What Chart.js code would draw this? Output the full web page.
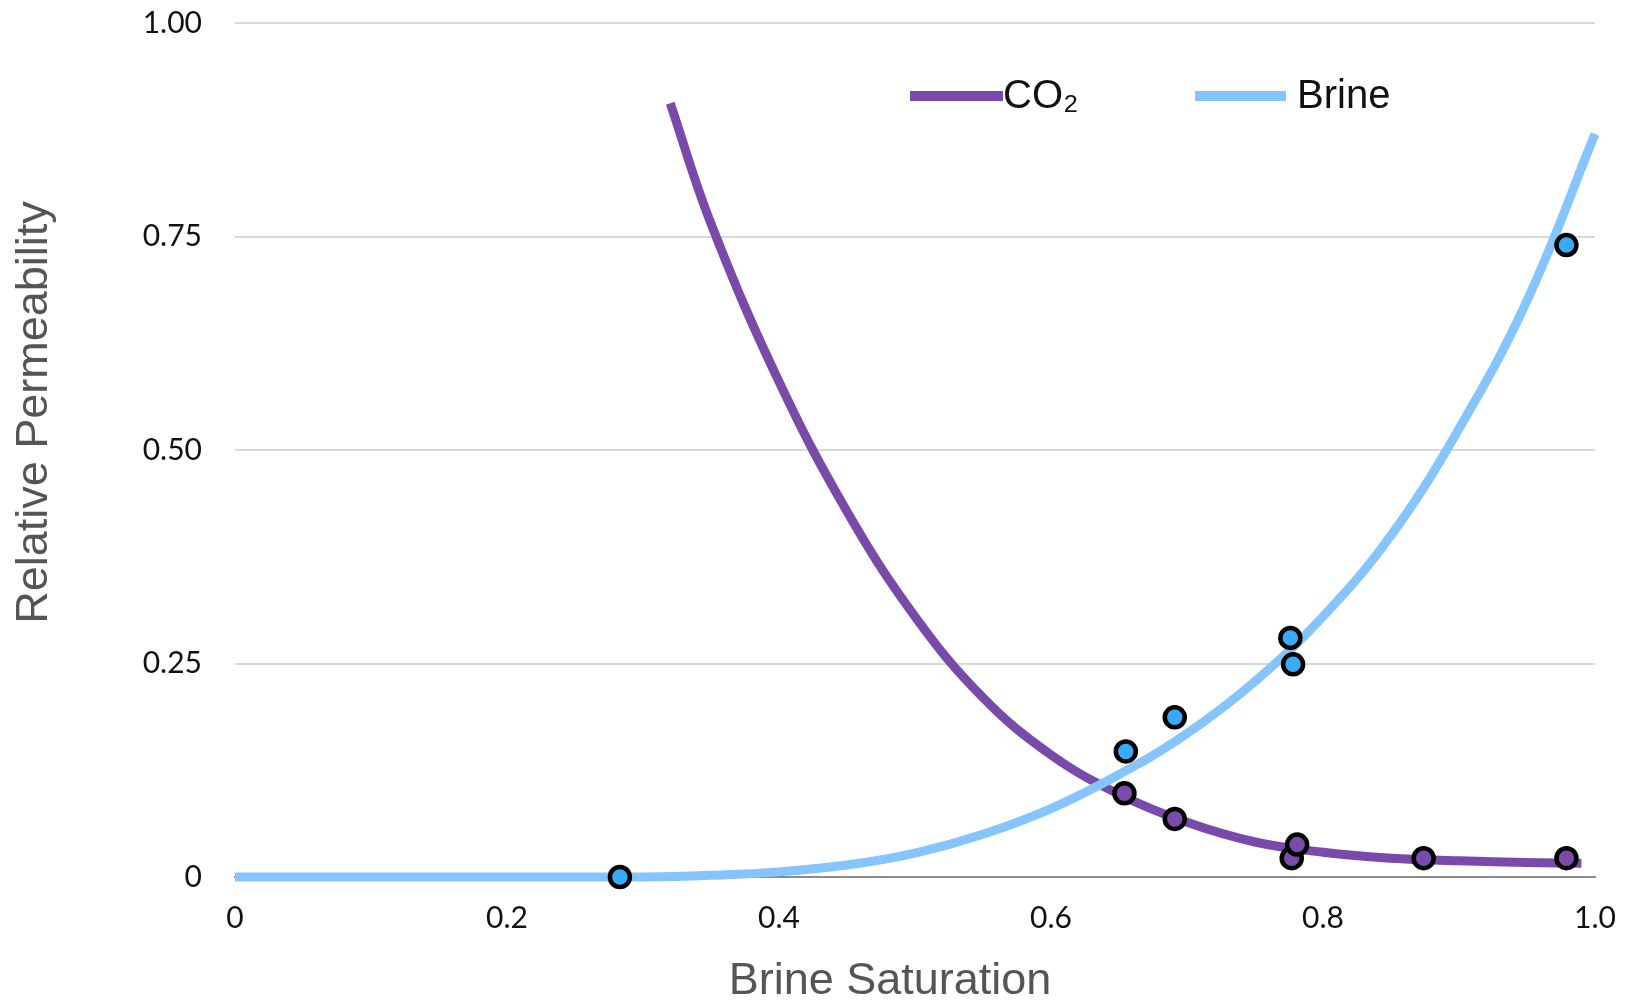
<!DOCTYPE html>
<html>
<head>
<meta charset="utf-8">
<script src="https://cdn.jsdelivr.net/npm/chart.js@4.4.1/dist/chart.umd.min.js"></script>
<style>
  html, body { margin: 0; padding: 0; background: #fff; }
  #wrap { width: 1625px; height: 1002px; }
</style>
</head>
<body>
<div id="wrap"><canvas id="myChart"></canvas></div>
<script>
// fitted curves
const brineSat = [0, 0.1, 0.2, 0.3, 0.35, 0.40, 0.45, 0.50, 0.55, 0.60, 0.65, 0.70, 0.75, 0.80, 0.85, 0.90, 0.95, 1.00];
const brineKr  = [0, 0, 0, 0, 0.002, 0.006, 0.014, 0.028, 0.050, 0.080, 0.120, 0.168, 0.229, 0.305, 0.400, 0.525, 0.675, 0.870];
const co2Sat = [0.32, 0.35, 0.40, 0.45, 0.50, 0.55, 0.60, 0.65, 0.70, 0.75, 0.80, 0.85, 0.90, 0.95, 0.99];
const co2Kr  = [0.906, 0.765, 0.580, 0.428, 0.305, 0.210, 0.143, 0.097, 0.064, 0.041, 0.029, 0.022, 0.019, 0.017, 0.016];

// measured points
const brineMeasSat = [0.283, 0.655, 0.691, 0.776, 0.778, 0.979];
const brineMeasKr  = [0, 0.147, 0.187, 0.280, 0.249, 0.740];
const co2MeasSat = [0.654, 0.691, 0.777, 0.781, 0.874, 0.979];
const co2MeasKr  = [0.098, 0.068, 0.022, 0.038, 0.022, 0.022];

const xTicks = [0, 0.2, 0.4, 0.6, 0.8, 1.0];
const xTickLabels = ['0', '0.2', '0.4', '0.6', '0.8', '1.0'];
const yTicks = [0, 0.25, 0.5, 0.75, 1.0];
const yTickLabels = ['0', '0.25', '0.50', '0.75', '1.00'];

const purple = '#7a4aab';
const lightBlue = '#85c4fc';
const purpleDot = '#7b4ba9';
const blueDot = '#38aaf8';

const toXY = (xs, ys) => xs.map((x, i) => ({ x: x, y: ys[i] }));

// legend drawn inside the plot, like the original
const insideLegend = {
  id: 'insideLegend',
  afterDraw(chart, args, opts) {
    const ctx = chart.ctx;
    ctx.save();
    ctx.font = '40px "Liberation Sans", Arial, sans-serif';
    ctx.textBaseline = 'middle';
    opts.items.forEach(it => {
      ctx.fillStyle = it.color;
      ctx.fillRect(it.x0, opts.y - 5, it.x1 - it.x0, 10);
      ctx.fillStyle = '#111';
      ctx.fillText(it.label, it.textX, opts.y + 1);
    });
    ctx.restore();
  }
};

const dotStyle = { borderColor: '#000', borderWidth: 4.5, pointRadius: 10, clip: false };
const curveStyle = { showLine: true, borderWidth: 9, pointRadius: 0, tension: 0.4, clip: false };

const ctx = document.getElementById('myChart').getContext('2d');
const myChart = new Chart(ctx, {
  type: 'scatter',
  data: {
    datasets: [
      Object.assign({ label: 'Brine measured', data: toXY(brineMeasSat, brineMeasKr), backgroundColor: blueDot, order: 1 }, dotStyle),
      Object.assign({ label: 'CO₂ measured', data: toXY(co2MeasSat, co2MeasKr), backgroundColor: purpleDot, order: 2 }, dotStyle),
      Object.assign({ label: 'Brine', data: toXY(brineSat, brineKr), borderColor: lightBlue, backgroundColor: lightBlue, order: 3 }, curveStyle),
      Object.assign({ label: 'CO₂', data: toXY(co2Sat, co2Kr), borderColor: purple, backgroundColor: purple, order: 4 }, curveStyle)
    ]
  },
  options: {
    responsive: true,
    maintainAspectRatio: false,
    animation: false,
    layout: { padding: { top: 23, right: 30, bottom: 0, left: 0 } },
    plugins: {
      legend: { display: false },
      tooltip: { enabled: false },
      insideLegend: {
        y: 96,
        items: [
          { label: 'CO₂', color: purple, x0: 910, x1: 1003, textX: 1003 },
          { label: 'Brine', color: lightBlue, x0: 1195, x1: 1286, textX: 1297 }
        ]
      }
    },
    scales: {
      x: {
        type: 'linear',
        min: 0,
        max: 1,
        afterFit: s => { s.height = 125; s.paddingLeft = 0; s.paddingRight = 0; },
        afterBuildTicks: s => { s.ticks = xTicks.map(v => ({ value: v })); },
        ticks: {
          padding: 23,
          color: '#111',
          font: { family: 'Lato', size: 30 },
          callback: v => xTickLabels[xTicks.indexOf(v)]
        },
        grid: { display: false, drawTicks: false },
        border: { display: true, color: '#8c8c8c', width: 2 },
        title: {
          display: true,
          text: 'Brine Saturation    ',
          color: '#555',
          font: { family: '"Liberation Sans", Arial, sans-serif', size: 45, lineHeight: 0.9 },
          padding: { top: 0, bottom: 0 }
        }
      },
      y: {
        type: 'linear',
        min: 0,
        max: 1,
        afterFit: s => { s.width = 235; s.paddingTop = 0; s.paddingBottom = 0; },
        afterBuildTicks: s => { s.ticks = yTicks.map(v => ({ value: v })); },
        ticks: {
          padding: 33,
          color: '#111',
          font: { family: 'Lato', size: 30 },
          callback: v => yTickLabels[yTicks.indexOf(v)]
        },
        grid: {
          drawTicks: false,
          color: c => c.tick && c.tick.value === 0 ? '#8c8c8c' : '#d9d9d9',
          lineWidth: 2
        },
        border: { display: false },
        title: {
          display: true,
          text: '      Relative Permeability',
          color: '#555',
          font: { family: '"Liberation Sans", Arial, sans-serif', size: 45, lineHeight: 1 },
          padding: { top: 12, bottom: 0 }
        }
      }
    }
  },
  plugins: [insideLegend]
});
</script>
</body>
</html>
